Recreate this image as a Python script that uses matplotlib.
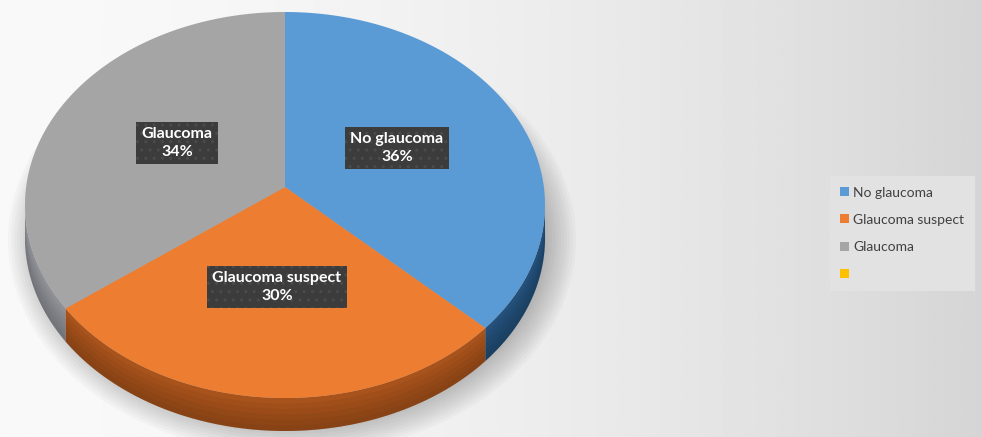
import numpy as np
import matplotlib.pyplot as plt
from matplotlib.patches import Polygon, Ellipse, Patch

categories = ['No glaucoma', 'Glaucoma suspect', 'Glaucoma', '']
values = [36, 30, 34, 0]
top_colors = ['#5b9bd5', '#ed7d31', '#a5a5a5', '#ffc000']
side_colors = ['#24507a', '#a8531c', '#8e9096', '#b38600']
label_pos = [(397, 148), (277, 287), (177, 143)]

plt.rcParams['font.family'] = ['Lato', 'DejaVu Sans']

fig = plt.figure(figsize=(9.82, 4.37), dpi=100)
ax = fig.add_axes([0, 0, 1, 1])
ax.set_xlim(0, 982)
ax.set_ylim(437, 0)
ax.axis('off')

# background gradient, light on the left, grey on the right
xs = np.linspace(0, 1, 400)
shade = 0.975 - 0.14 * xs ** 1.8
bg = np.tile(shade, (50, 1))
ax.imshow(bg, cmap='gray', vmin=0, vmax=1, extent=[0, 982, 437, 0],
          aspect='auto', zorder=0, interpolation='bilinear')

# pie geometry (pixels)
cx, cy = 285, 205
apex = (285, 187)
rx, ry = 260, 193
depth = 33


def edge(th):
    t = np.radians(th)
    return cx + rx * np.cos(t), cy - ry * np.sin(t)


# soft shadow under the pie
for k in range(14):
    ax.add_patch(Ellipse((292, 240), 2 * rx + 48 - 6 * k, 2 * ry + 44 - 6 * k,
                         fc='black', ec='none', alpha=0.022, zorder=1))

total = sum(values)
start = 90.0
angles = []
for v in values:
    end = start - 360.0 * v / total
    angles.append((start, end))
    start = end

# sides (front half only), darkening towards the bottom
for (a0, a1), c in zip(angles, side_colors):
    hi, lo = min(a0, 0), max(a1, -180)
    if lo >= hi:
        continue
    th = np.linspace(hi, lo, 80)
    x, y = edge(th)
    pts = np.column_stack([np.r_[x, x[::-1]], np.r_[y, y[::-1] + depth]])
    ax.add_patch(Polygon(pts, closed=True, fc=c, ec='none', zorder=2))
    for j in range(1, 6):
        f = j / 6
        pts2 = np.column_stack([np.r_[x, x[::-1]], np.r_[y + depth * f, y[::-1] + depth]])
        ax.add_patch(Polygon(pts2, closed=True, fc='black', ec='none', alpha=0.04, zorder=2))

# top faces
for (a0, a1), c in zip(angles, top_colors):
    if a0 == a1:
        continue
    th = np.linspace(a0, a1, 200)
    x, y = edge(th)
    pts = np.column_stack([np.r_[apex[0], x], np.r_[apex[1], y]])
    ax.add_patch(Polygon(pts, closed=True, fc=c, ec='none', zorder=3))

# data labels
for cat, v, (lx, ly) in zip(categories, values, label_pos):
    ax.text(lx, ly, f'{cat}\n{v}%', ha='center', va='center', color='white',
            fontweight='bold', fontsize=11.5, linespacing=1.3, zorder=5,
            bbox=dict(boxstyle='square,pad=0.35', fc='#3c3c3c', ec='#4b4b4b',
                      lw=0, hatch='..'))

handles = [Patch(fc=c, ec='none') for c in top_colors]
leg = fig.legend(handles, categories, loc='upper left', bbox_to_anchor=(0.845, 0.597),
                 frameon=True, facecolor='#e2e2e2', edgecolor='none', framealpha=1,
                 fancybox=False, fontsize=10, labelcolor='#404040',
                 handlelength=0.6, handleheight=0.6, handletextpad=0.35,
                 labelspacing=1.1, borderpad=0.75, borderaxespad=0)

fig.savefig('out.png', dpi=100)
